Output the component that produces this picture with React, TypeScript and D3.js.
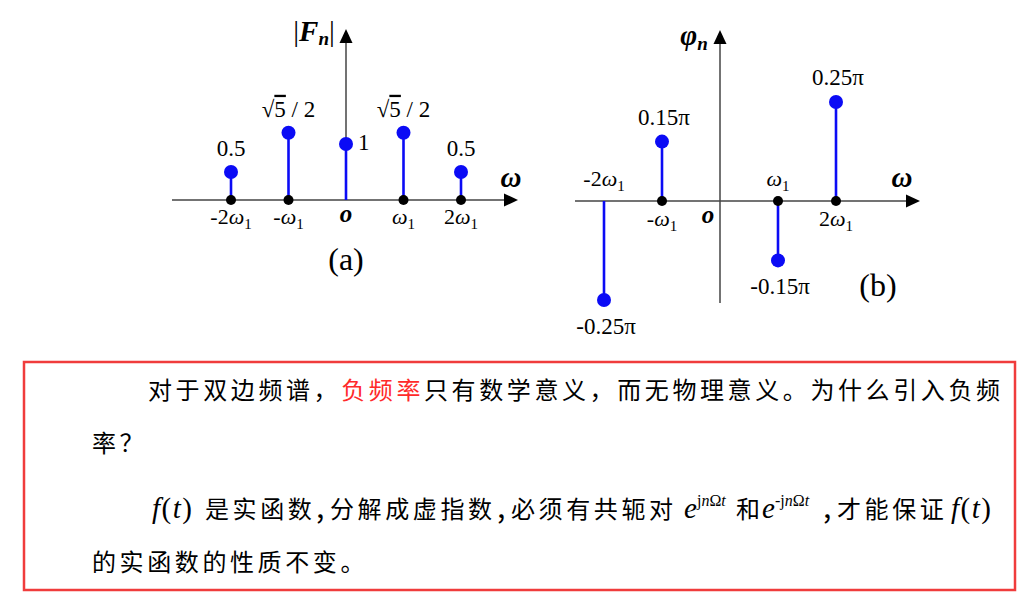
import { useEffect, useRef } from 'react';
import * as d3 from 'd3';

// harmonic index n (frequency n·ω1)
const harmonics = [-2, -1, 0, 1, 2];
const tickLabels = ['-2ω1', '-ω1', 'o', 'ω1', '2ω1'];

// (a) magnitude spectrum |Fn|
const magnitudes = [0.5, 1.2, 1, 1.2, 0.5];
const magnitudeLabels = ['0.5', '√5/2', '1', '√5/2', '0.5'];
const magnitudeAxisDots = [-2, -1, 1, 2];

// (b) phase spectrum φn, in units of π
const phases = [-0.25, 0.15, 0, -0.15, 0.25];
const phaseLabels = ['-0.25π', '0.15π', '', '-0.15π', '0.25π'];
const phaseAxisDots = [-1, 1, 2];

const SERIF = '"Liberation Serif", "Times New Roman", serif';
const CJK = '"Noto Sans CJK SC", "Noto Sans CJK JP", sans-serif';
const BLUE = '#0b0bf5';
const AXIS = '#444';

type G = d3.Selection<SVGGElement, unknown, null, undefined>;

function arrowAxis(g: G, x1: number, y1: number, x2: number, y2: number) {
  const len = Math.hypot(x2 - x1, y2 - y1);
  const ux = (x2 - x1) / len;
  const uy = (y2 - y1) / len;
  const head = 14;
  const half = 6.5;
  const bx = x2 - ux * head;
  const by = y2 - uy * head;
  g.append('line')
    .attr('x1', x1).attr('y1', y1)
    .attr('x2', bx).attr('y2', by)
    .attr('stroke', AXIS)
    .attr('stroke-width', 1.5);
  g.append('path')
    .attr('d', `M${x2},${y2}L${bx - uy * half},${by + ux * half}L${bx + uy * half},${by - ux * half}Z`)
    .attr('fill', '#000');
}

// "-2ω1" -> "-2" + italic ω + subscript 1 ; "o" -> bold italic origin
function omegaLabel(g: G, label: string, x: number, y: number) {
  const t = g.append('text')
    .attr('x', x).attr('y', y)
    .attr('text-anchor', 'middle')
    .style('font-family', SERIF)
    .style('font-size', '22px')
    .style('fill', '#000');
  if (label === 'o') {
    t.style('font-weight', 'bold').style('font-style', 'italic').style('font-size', '25px').text('o');
    return;
  }
  const pre = label.split('ω')[0];
  if (pre) t.append('tspan').text(pre);
  t.append('tspan').style('font-style', 'italic').text('ω');
  t.append('tspan').style('font-size', '15px').attr('dy', 5).text('1');
}

function axisLetter(g: G, label: string, x: number, y: number, sub?: string) {
  const t = g.append('text')
    .attr('x', x).attr('y', y)
    .attr('text-anchor', 'middle')
    .style('font-family', SERIF)
    .style('font-size', '29px')
    .style('font-weight', 'bold')
    .style('font-style', 'italic');
  t.append('tspan').text(label);
  if (sub) t.append('tspan').style('font-size', '19px').attr('dy', 5).text(sub);
  return t;
}

function drawMagnitude(g: G) {
  const x = d3.scaleLinear().domain([-2, 2]).range([231, 461]);
  const y = d3.scaleLinear().domain([0, 1]).range([200, 144]);
  const x0 = x(0);
  const y0 = y(0);

  arrowAxis(g, 172, y0, 518, y0);
  arrowAxis(g, x0, y0, x0, 29);

  const pts = harmonics.map((n, i) => ({ n, v: magnitudes[i], label: magnitudeLabels[i] }));

  g.selectAll('.stem').data(pts).enter().append('line')
    .attr('x1', d => x(d.n)).attr('x2', d => x(d.n))
    .attr('y1', y0).attr('y2', d => y(d.v))
    .attr('stroke', BLUE).attr('stroke-width', 2.6);

  g.selectAll('.tip').data(pts).enter().append('circle')
    .attr('cx', d => x(d.n)).attr('cy', d => y(d.v)).attr('r', 7)
    .attr('fill', BLUE);

  g.selectAll('.base').data(magnitudeAxisDots).enter().append('circle')
    .attr('cx', d => x(d)).attr('cy', y0).attr('r', 5)
    .attr('fill', '#000');

  pts.forEach(d => {
    if (d.n === 0) {
      g.append('text')
        .attr('x', x(d.n) + 12).attr('y', y(d.v) + 6)
        .style('font-family', SERIF).style('font-size', '23px')
        .text(d.label);
      return;
    }
    const t = g.append('text')
      .attr('x', x(d.n)).attr('y', y(d.v) - 16)
      .attr('text-anchor', 'middle')
      .style('font-family', SERIF).style('font-size', '23px');
    if (d.label.startsWith('√')) {
      const [num, den] = d.label.slice(1).split('/');
      t.append('tspan').text('√');
      t.append('tspan').style('text-decoration', 'overline').text(num);
      t.append('tspan').text(` / ${den}`);
    } else {
      t.text(d.label);
    }
  });

  harmonics.forEach((n, i) => {
    if (n === 0) omegaLabel(g, tickLabels[i], x0, y0 + 22);
    else omegaLabel(g, tickLabels[i], x(n), y0 + 24);
  });

  // |Fn|
  const f = g.append('text')
    .attr('x', x0 - 32).attr('y', 41)
    .attr('text-anchor', 'middle')
    .style('font-family', SERIF).style('font-size', '29px');
  f.append('tspan').text('|');
  f.append('tspan').style('font-weight', 'bold').style('font-style', 'italic').text('F');
  f.append('tspan').style('font-weight', 'bold').style('font-style', 'italic')
    .style('font-size', '19px').attr('dy', 4).text('n');
  f.append('tspan').attr('dy', -4).text('|');

  axisLetter(g, 'ω', 511, 187);

  g.append('text')
    .attr('x', x0).attr('y', 270)
    .attr('text-anchor', 'middle')
    .style('font-family', SERIF).style('font-size', '32px')
    .text('(a)');
}

function drawPhase(g: G) {
  const x = d3.scaleLinear().domain([-2, 2]).range([604, 836]);
  const y = d3.scaleLinear().domain([-0.25, 0.25]).range([300, 102]);
  const x0 = x(0);
  const y0 = y(0);

  arrowAxis(g, 575, y0, 920, y0);
  arrowAxis(g, x0, 303, x0, 30);

  const pts = harmonics
    .map((n, i) => ({ n, v: phases[i], label: phaseLabels[i] }))
    .filter(d => d.v !== 0);

  g.selectAll('.stem').data(pts).enter().append('line')
    .attr('x1', d => x(d.n)).attr('x2', d => x(d.n))
    .attr('y1', y0).attr('y2', d => y(d.v))
    .attr('stroke', BLUE).attr('stroke-width', 2.6);

  g.selectAll('.tip').data(pts).enter().append('circle')
    .attr('cx', d => x(d.n)).attr('cy', d => y(d.v)).attr('r', 7)
    .attr('fill', BLUE);

  g.selectAll('.base').data(phaseAxisDots).enter().append('circle')
    .attr('cx', d => x(d)).attr('cy', y0).attr('r', 5)
    .attr('fill', '#000');

  pts.forEach(d => {
    g.append('text')
      .attr('x', x(d.n) + 2).attr('y', d.v > 0 ? y(d.v) - 17 : y(d.v) + 34)
      .attr('text-anchor', 'middle')
      .style('font-family', SERIF).style('font-size', '23px')
      .text(d.label);
  });

  harmonics.forEach((n, i) => {
    if (n === 0) {
      omegaLabel(g, tickLabels[i], x0 - 12, y0 + 22);
      return;
    }
    const above = phases[i] < 0;
    omegaLabel(g, tickLabels[i], x(n), above ? y0 - 15 : y0 + 25);
  });

  axisLetter(g, 'φ', x0 - 26, 45, 'n');
  axisLetter(g, 'ω', 902, 187);

  g.append('text')
    .attr('x', 878).attr('y', 296)
    .attr('text-anchor', 'middle')
    .style('font-family', SERIF).style('font-size', '32px')
    .text('(b)');
}

function cjk(g: G, x: number, y: number, s: string, color = '#000') {
  return g.append('text')
    .attr('x', x).attr('y', y)
    .style('font-family', CJK).style('font-size', '24px')
    .style('letter-spacing', '3.6px')
    .style('fill', color)
    .text(s);
}

function comma(g: G, x: number, y: number) {
  g.append('text')
    .attr('x', x).attr('y', y)
    .style('font-family', CJK).style('font-size', '30px')
    .text(',');
}

function mathF(g: G, x: number, y: number) {
  const t = g.append('text')
    .attr('x', x).attr('y', y)
    .style('font-family', SERIF).style('font-size', '29px')
    .style('letter-spacing', '1.5px');
  t.append('tspan').style('font-style', 'italic').text('f');
  t.append('tspan').text('(');
  t.append('tspan').style('font-style', 'italic').text('t');
  t.append('tspan').text(')');
}

function mathExp(g: G, x: number, y: number, sign: string) {
  g.append('text')
    .attr('x', x).attr('y', y)
    .style('font-family', SERIF).style('font-size', '29px').style('font-style', 'italic')
    .text('e');
  const s = g.append('text')
    .attr('x', x + 13).attr('y', y - 12)
    .style('font-family', SERIF).style('font-size', '16px');
  s.append('tspan').text(sign + 'j');
  s.append('tspan').style('font-style', 'italic').text('n');
  s.append('tspan').text('Ω');
  s.append('tspan').style('font-style', 'italic').text('t');
}

function drawNote(g: G) {
  g.append('rect')
    .attr('x', 24).attr('y', 362)
    .attr('width', 991).attr('height', 228)
    .attr('fill', 'none')
    .attr('stroke', '#f03c3c')
    .attr('stroke-width', 2.5);

  const l1 = cjk(g, 148, 399, '');
  l1.append('tspan').text('对于双边频谱，');
  l1.append('tspan').style('fill', '#ff2a2a').text('负频率');
  l1.append('tspan').text('只有数学意义，而无物理意义。为什么引入负频');

  cjk(g, 92, 452, '率？');

  const y3 = 518;
  mathF(g, 152, y3);
  cjk(g, 205, y3, '是实函数');
  comma(g, 316, y3);
  cjk(g, 330, y3, '分解成虚指数');
  comma(g, 497, y3);
  cjk(g, 511, y3, '必须有共轭对');
  mathExp(g, 684, y3, '');
  cjk(g, 736, y3, '和');
  mathExp(g, 762, y3, '-');
  comma(g, 823, y3);
  cjk(g, 837, y3, '才能保证');
  mathF(g, 951, y3);

  cjk(g, 92, 571, '的实函数的性质不变。');
}

export default function App() {
  const svgRef = useRef<SVGSVGElement>(null);

  useEffect(() => {
    const svg = d3.select(svgRef.current);
    svg.selectAll('*').remove();
    drawMagnitude(svg.append('g') as G);
    drawPhase(svg.append('g') as G);
    drawNote(svg.append('g') as G);
  }, []);

  return (
    <svg
      ref={svgRef}
      width={1017}
      height={596}
      style={{ position: 'absolute', left: 0, top: 0, background: '#fff' }}
    />
  );
}
